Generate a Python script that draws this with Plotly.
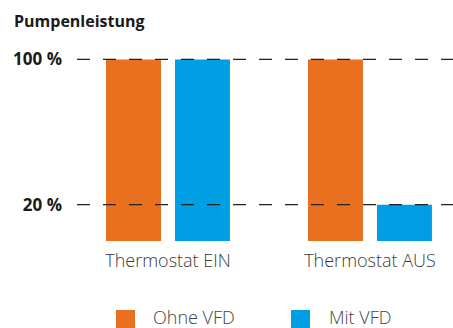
import plotly.graph_objects as go

# Data
categories = ["Thermostat EIN", "Thermostat AUS"]
series_names = ["Ohne VFD", "Mit VFD"]
ohne_vfd = [100, 100]
mit_vfd = [100, 20]
ref_levels = [20, 100]
ref_labels = ["20 %", "100 %"]
title_text = "Pumpenleistung"

colors = ["#E8701F", "#009FE3"]
W, H = 453, 328
L, R, T, B = 77, 0, 40, 87
plot_w, plot_h = W - L - R, H - T - B


def px_x(px):
    return (px - L) / plot_w


def px_y(py):
    return (H - B - py) / plot_h


fig = go.Figure()
for name, vals, col in zip(series_names, [ohne_vfd, mit_vfd], colors):
    fig.add_trace(go.Bar(x=categories, y=vals, name=name, marker_color=col,
                         marker_line_width=0, showlegend=False))

# Dashed reference lines drawn over the bars
for lvl in ref_levels:
    fig.add_shape(type="line", xref="paper", yref="y", x0=0, x1=1, y0=lvl, y1=lvl,
                  line=dict(color="#222222", width=1.2, dash="13px,13px"), layer="above")

# Hand-built legend at the bottom
legend_items = [(116, 151), (291, 327)]
for (sx, tx), name, col in zip(legend_items, series_names, colors):
    fig.add_shape(type="rect", xref="paper", yref="paper",
                  x0=px_x(sx), x1=px_x(sx + 19), y0=px_y(328), y1=px_y(310),
                  fillcolor=col, line_width=0)
    fig.add_annotation(text=name, xref="paper", yref="paper", x=px_x(tx), y=px_y(317),
                       xanchor="left", yanchor="middle", showarrow=False,
                       font=dict(family="Open Sans", size=18, color="#444444", weight=300))

fig.add_annotation(text="<b>" + title_text + "</b>", xref="paper", yref="paper",
                   x=px_x(12), y=px_y(21), xanchor="left", yanchor="middle", showarrow=False,
                   font=dict(family="Open Sans", size=16, color="#1a1a1a"))

fig.update_layout(
    width=W, height=H,
    margin=dict(l=L, r=R, t=T, b=B),
    paper_bgcolor="white", plot_bgcolor="white",
    barmode="group", bargap=0.317, bargroupgap=0.203,
    xaxis=dict(range=[-0.4505, 1.411], showgrid=False, zeroline=False, showline=False,
               ticks="", ticklabelstandoff=7,
               tickfont=dict(family="Open Sans", size=18, color="#3a3a3a", weight=300)),
    yaxis=dict(range=[0, 110.7], tickvals=ref_levels,
               ticktext=["<b>" + t + "</b>" for t in ref_labels],
               showgrid=False, zeroline=False, showline=False, ticks="",
               ticklabelstandoff=14,
               tickfont=dict(family="Open Sans", size=17, color="#1a1a1a")),
    showlegend=False,
)

fig.write_html("out.html")
